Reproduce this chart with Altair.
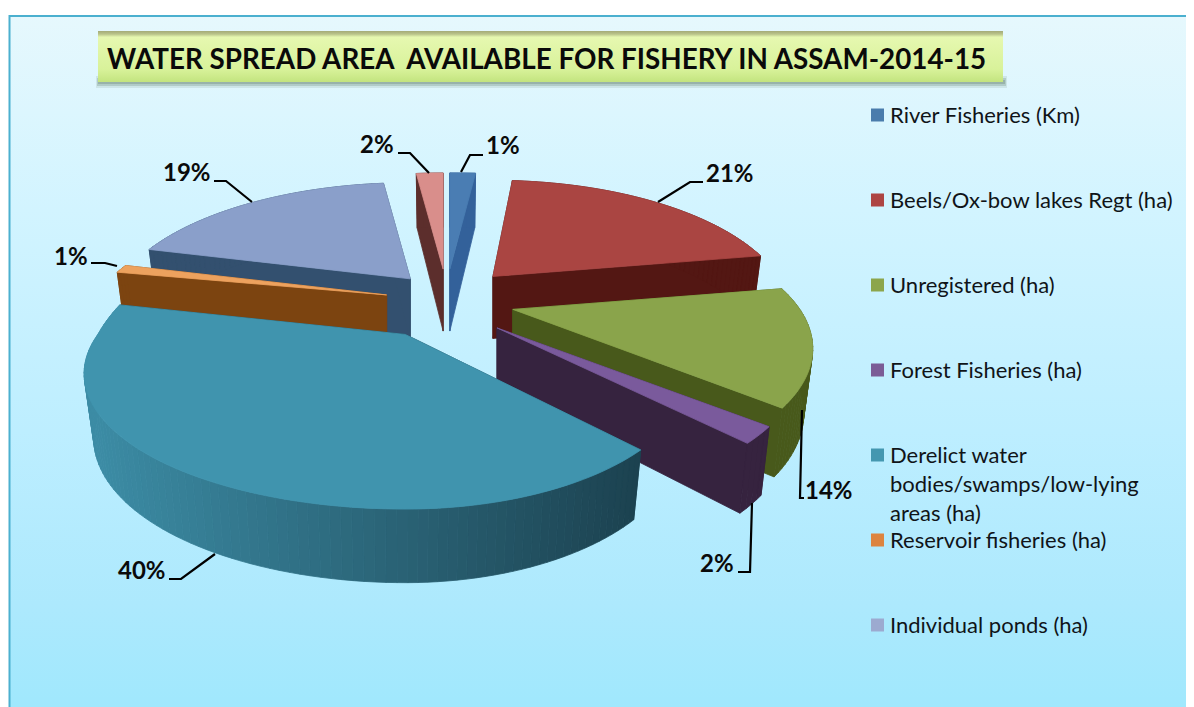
import math
import altair as alt
import pandas as pd

# ---------- data ----------
categories = ["River Fisheries (Km)", "Beels/Ox-bow lakes Regt (ha)", "Unregistered (ha)",
              "Forest Fisheries (ha)", "Derelict water bodies/swamps/low-lying areas (ha)",
              "Reservoir fisheries (ha)", "Individual ponds (ha)", "Pink (unlabelled)"]
legend_labels = [["River Fisheries (Km)"], ["Beels/Ox-bow lakes Regt (ha)"], ["Unregistered (ha)"],
                 ["Forest Fisheries (ha)"], ["Derelict water", "bodies/swamps/low-lying", "areas (ha)"],
                 ["Reservoir fisheries (ha)"], ["Individual ponds (ha)"]]
shares = [1.4, 20.8, 14.0, 1.9, 40.0, 1.0, 19.0, 1.9]
title_text = "WATER SPREAD AREA \u00a0AVAILABLE FOR FISHERY IN ASSAM-2014-15"

# ---------- styles ----------
top_colors = ["#4a7db3", "#aa4542", "#8aa44b", "#7a5a9c", "#4094ae", "#eda25e", "#8a9fca", "#d98e8b"]
cut_colors = ["#33619a", "#531713", "#48591b", "#36233f", "#1d4656", "#7c4410", "#33506f", "#5c2e2c"]
arc_left = ["#33619a", "#531713", "#48591b", "#36233f", "#3c8ca5", "#7c4410", "#33506f", "#5c2e2c"]
arc_right = ["#33619a", "#531713", "#48591b", "#36233f", "#1c4250", "#7c4410", "#33506f", "#5c2e2c"]
swatch_colors = ["#4a7cac", "#ad4543", "#8ca54b", "#7b5c96", "#4497b0", "#dd843f", "#9caad0"]
draw_order = [0, 7, 6, 5, 1, 2, 3, 4]

# ---------- layout of the tilted, exploded pie ----------
CX, CY = 450, 303          # centre of the explosion
EX, EY = 65, 36            # explosion offsets
W, H = 290, 124            # radius on screen
P = 0.29                   # perspective
DEPTH = 62
BOTTOM_K = 0.97
# per slice fine tuning: dx, dy, stretch for left half, for right half, for the far half (vertical)
tune = {0: (-3, 2, 1, 1.3, 1), 7: (-3, 2, 1, 1, 1), 1: (-1, 0, 1, 0.985, 1),
        4: (-13, 0, 1.06, 0.94, 1.3), 2: (0, -3, 1, 0.99, 1), 6: (3, 3, 1, 1, 1)}


def spread(th):
    u, v = math.sin(th), -math.cos(th)
    s = 1 / (1 - P * v)
    return u, v, W * u * s, H * v * s, s


total = sum(shares)
starts, acc = [], 0.0
for sh in shares:
    starts.append(acc)
    acc += sh / total * 2 * math.pi


def mix(a, b, t):
    ca = [int(a[i:i + 2], 16) for i in (1, 3, 5)]
    cb = [int(b[i:i + 2], 16) for i in (1, 3, 5)]
    return "#" + "".join(f"{round(x + (y - x) * t):02x}" for x, y in zip(ca, cb))


rows = []
pid = 0


def poly(points, color):
    global pid
    for i, (x, y) in enumerate(points):
        rows.append({"pid": pid, "i": i, "x": x, "y": y, "c": color})
    pid += 1


for k in draw_order:
    a0 = starts[k]
    a1 = a0 + shares[k] / total * 2 * math.pi
    mid = (a0 + a1) / 2
    dx, dy, sl, sr, sb = tune.get(k, (0, 0, 1, 1, 1))
    ax = CX + EX * math.sin(mid) + dx
    ay = CY - EY * math.cos(mid) + dy
    n = max(3, int(math.degrees(a1 - a0) / 1.5))

    def top(th):
        u, v, X, Y, s = spread(th)
        return ax + X * (sl if u < 0 else sr), ay + Y * (sb if v < 0 else 1)

    def bottom(th):
        u, v, X, Y, s = spread(th)
        return ax + BOTTOM_K * X * (sl if u < 0 else sr), ay + Y * (sb if v < 0 else 1) + DEPTH * math.sqrt(s)

    ths = [a0 + (a1 - a0) * j / n for j in range(n + 1)]
    # cut faces
    poly([(ax, ay), top(a0), bottom(a0), (ax, ay + DEPTH)], cut_colors[k])
    poly([(ax, ay), top(a1), bottom(a1), (ax, ay + DEPTH)], cut_colors[k])
    # outer wall
    for j in range(n):
        tx = (top(ths[j])[0] + top(ths[j + 1])[0]) / 2
        t = min(1, max(0, (tx - 90) / 550))
        poly([top(ths[j]), top(ths[j + 1]), bottom(ths[j + 1]), bottom(ths[j])],
             mix(arc_left[k], arc_right[k], t))
    # top face
    poly([(ax, ay)] + [top(t) for t in ths], top_colors[k])

df = pd.DataFrame(rows)

xs = alt.Scale(domain=[8, 1186], nice=False, zero=False)
ys = alt.Scale(domain=[707, 8], nice=False, zero=False)


def X(f):
    return alt.X(f, type="quantitative", scale=xs, axis=None)


def Y(f):
    return alt.Y(f, type="quantitative", scale=ys, axis=None)


def rect(x0, x1, y0, y1, **mark):
    d = pd.DataFrame([{"x0": x0, "x1": x1, "y0": y0, "y1": y1}])
    return alt.Chart(d).mark_rect(**mark).encode(x=X("x0"), x2="x1", y=Y("y0"), y2="y1")


def vgrad(stops):
    return alt.Gradient(gradient="linear", x1=0, x2=0, y1=0, y2=1,
                        stops=[alt.GradientStop(offset=o, color=c) for o, c in stops])


layers = []
# page background
layers.append(rect(9, 1186, 16, 707, fill=vgrad([(0, "#e6f8fd"), (0.28, "#d2f4ff"), (0.6, "#bdeeff"),
                                                 (0.85, "#ade9fd"), (1, "#a0e8fd")])))
frame = pd.DataFrame({"x": [9.5, 9.5, 1186], "y": [707, 16, 16], "o": [0, 1, 2]})
layers.append(alt.Chart(frame).mark_line(color="#4bb0cf", strokeWidth=2).encode(x=X("x"), y=Y("y"), order="o:Q"))

# title box with soft shadow
layers.append(rect(96, 1007, 76, 88, fill="#7f9a8c", opacity=0.18))
layers.append(rect(97, 1006, 78, 86, fill="#7f9a8c", opacity=0.35))
layers.append(rect(98, 1005, 80, 84, fill="#7f9a8c", opacity=0.5))
layers.append(rect(98, 1003, 31, 82, fill=vgrad([(0, "#a4ab78"), (0.06, "#b9c38a"), (0.12, "#e6f8b0"),
                                                 (0.75, "#d8f29a"), (1, "#c3e47f")])))
title_df = pd.DataFrame([{"x": 107, "y": 61, "t": title_text}])
layers.append(alt.Chart(title_df).mark_text(align="left", baseline="middle", font="Lato", fontWeight="bold",
                                            fontSize=27.8, color="#0a0a0a").encode(x=X("x"), y=Y("y"), text="t:N"))

# pie
layers.append(alt.Chart(df).mark_line(interpolate="linear-closed", strokeWidth=0.8).encode(
    x=X("x"), y=Y("y"), detail="pid:N", order="i:Q",
    fill=alt.Fill("c:N", scale=None), stroke=alt.Stroke("c:N", scale=None)))

# leader lines and percent labels
label_pos = [(486, 147), (706, 175), (805, 492), (700, 565), (118, 572), (54, 258), (163, 174), (360, 146)]
leaders = [[(461, 172), (470, 155), (483, 155)],
           [(658, 202), (690, 182), (703, 182)],
           [(802, 410), (800, 498), (804, 498)],
           [(752, 503), (750, 572), (738, 572)],
           [(215, 554), (181, 579), (169, 579)],
           [(117, 266), (105, 263), (91, 263)],
           [(252, 202), (226, 181), (214, 181)],
           [(429, 173), (410, 153), (398, 153)]]
ld = pd.DataFrame([{"s": k, "o": i, "x": p[0], "y": p[1]} for k, l in enumerate(leaders) for i, p in enumerate(l)])
layers.append(alt.Chart(ld).mark_line(color="#000000", strokeWidth=2.2).encode(
    x=X("x"), y=Y("y"), detail="s:N", order="o:Q"))
pct = pd.DataFrame([{"x": p[0], "y": p[1], "t": f"{round(v)}%"} for p, v in zip(label_pos, shares)])
layers.append(alt.Chart(pct).mark_text(align="left", baseline="middle", font="Lato", fontWeight="bold",
                                       fontSize=24, color="#0a0a0a").encode(x=X("x"), y=Y("y"), text="t:N"))

# legend built from marks
legend_y = [115, 200, 285, 370, 455, 540, 625]
sw = pd.DataFrame([{"x0": 871, "x1": 884, "y0": y - 6.5, "y1": y + 6.5, "c": c}
                   for y, c in zip(legend_y, swatch_colors)])
layers.append(alt.Chart(sw).mark_rect().encode(x=X("x0"), x2="x1", y=Y("y0"), y2="y1",
                                               fill=alt.Fill("c:N", scale=None)))
lg = pd.DataFrame([{"x": 890, "y": y + 1 + j * 29, "t": t}
                   for y, lines in zip(legend_y, legend_labels) for j, t in enumerate(lines)])
layers.append(alt.Chart(lg).mark_text(align="left", baseline="middle", font="Lato", fontSize=22,
                                      color="#101418").encode(x=X("x"), y=Y("y"), text="t:N"))

chart = alt.layer(*layers).properties(
    width=1178, height=699, padding=0, autosize=alt.AutoSizeParams(type="none"), background="#ffffff"
).configure_view(stroke=None)

chart.save("out.html", embed_options={"renderer": "svg", "actions": False})
